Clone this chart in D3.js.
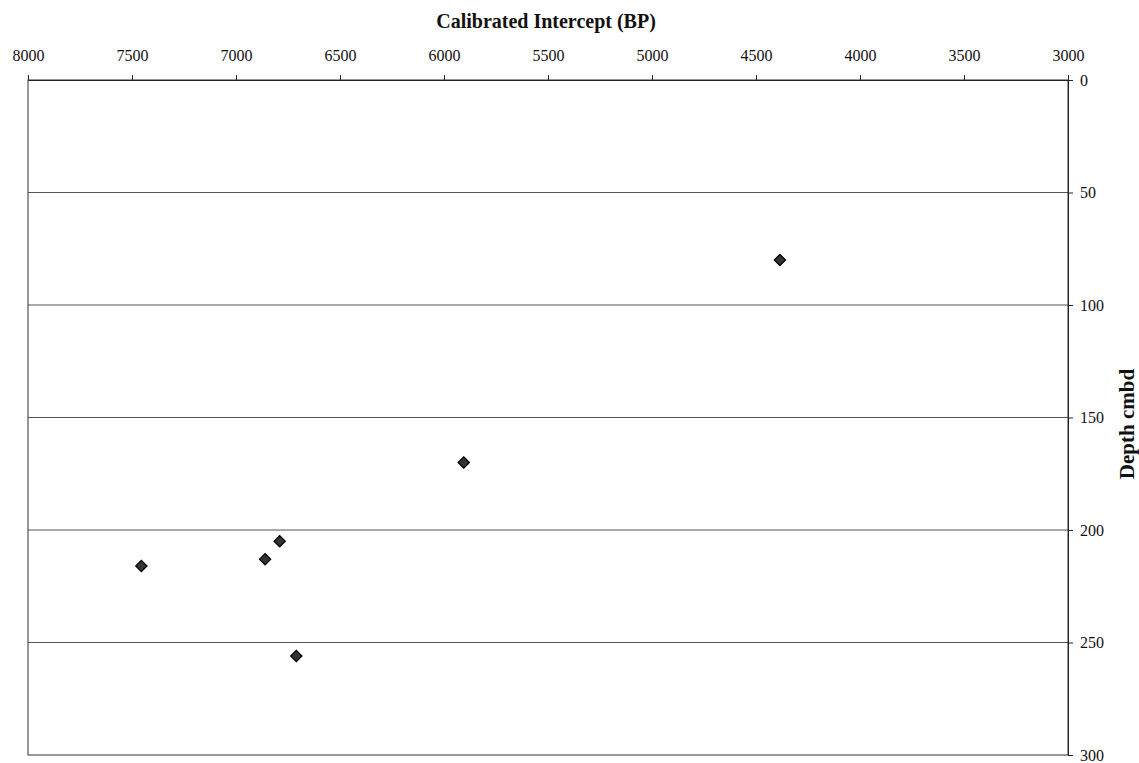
<!DOCTYPE html>
<html>
<head>
<meta charset="utf-8">
<script src="https://cdn.jsdelivr.net/npm/d3@7"></script>
<style>
  body { margin: 0; background: #fff; }
  svg { display: block; font-family: "Liberation Serif", "DejaVu Serif", serif; }
</style>
</head>
<body>
<div id="chart"></div>
<script>
// calibrated intercept (BP) vs depth (cmbd)
const ageBP = [4385, 5905, 7455, 6860, 6790, 6710];
const depthCm = [80, 170, 216, 213, 205, 256];

const xTicks = [8000, 7500, 7000, 6500, 6000, 5500, 5000, 4500, 4000, 3500, 3000];
const yTicks = [0, 50, 100, 150, 200, 250, 300];

const width = 1139, height = 763;
const margin = { top: 80, right: 71, bottom: 8, left: 28 };

const svg = d3.select("#chart")
    .append("svg")
    .attr("width", width)
    .attr("height", height);

const x = d3.scaleLinear()
    .domain([8000, 3000])
    .range([margin.left, width - margin.right]);

const y = d3.scaleLinear()
    .domain([0, 300])
    .range([margin.top, height - margin.bottom]);

// horizontal gridlines
svg.append("g")
    .selectAll("line")
    .data(yTicks.filter(d => d > 0 && d < 300))
    .enter()
    .append("line")
    .attr("x1", x(8000))
    .attr("x2", x(3000))
    .attr("y1", d => y(d))
    .attr("y2", d => y(d))
    .attr("stroke", "#555")
    .attr("stroke-width", 1);

// plot frame
svg.append("rect")
    .attr("x", x(8000))
    .attr("y", y(0))
    .attr("width", x(3000) - x(8000))
    .attr("height", y(300) - y(0))
    .attr("fill", "none")
    .attr("stroke", "#333")
    .attr("stroke-width", 1);

// top axis
const xAxis = svg.append("g")
    .attr("transform", `translate(0,${y(0)})`)
    .call(d3.axisTop(x).tickValues(xTicks).tickSize(5).tickPadding(14).tickFormat(d3.format("d")));
xAxis.select(".domain").attr("stroke", "#222");
xAxis.selectAll(".tick line").attr("stroke", "#222");
xAxis.selectAll("text")
    .attr("font-family", "Liberation Serif, serif")
    .attr("font-size", 16)
    .attr("fill", "#111");

// right axis
const yAxis = svg.append("g")
    .attr("transform", `translate(${x(3000)},0)`)
    .call(d3.axisRight(y).tickValues(yTicks).tickSize(5).tickPadding(7));
yAxis.select(".domain").attr("stroke", "#222");
yAxis.selectAll(".tick line").attr("stroke", "#222");
yAxis.selectAll("text")
    .attr("font-family", "Liberation Serif, serif")
    .attr("font-size", 16)
    .attr("fill", "#111");

// titles
svg.append("text")
    .attr("x", 546)
    .attr("y", 28)
    .attr("text-anchor", "middle")
    .attr("font-size", 20)
    .attr("font-weight", "bold")
    .attr("fill", "#111")
    .text("Calibrated Intercept (BP)");

svg.append("text")
    .attr("transform", `translate(1134,424) rotate(-90)`)
    .attr("text-anchor", "middle")
    .attr("font-size", 21)
    .attr("font-weight", "bold")
    .attr("fill", "#111")
    .text("Depth cmbd");

// diamond markers (square turned 45 degrees)
const diamond = d3.symbol().type(d3.symbolSquare).size(64);
svg.append("g")
    .selectAll("path")
    .data(ageBP.map((a, i) => ({ age: a, depth: depthCm[i] })))
    .enter()
    .append("path")
    .attr("d", diamond)
    .attr("transform", d => `translate(${x(d.age)},${y(d.depth)}) rotate(45)`)
    .attr("fill", "#333")
    .attr("stroke", "#000")
    .attr("stroke-width", 1.2);
</script>
</body>
</html>
